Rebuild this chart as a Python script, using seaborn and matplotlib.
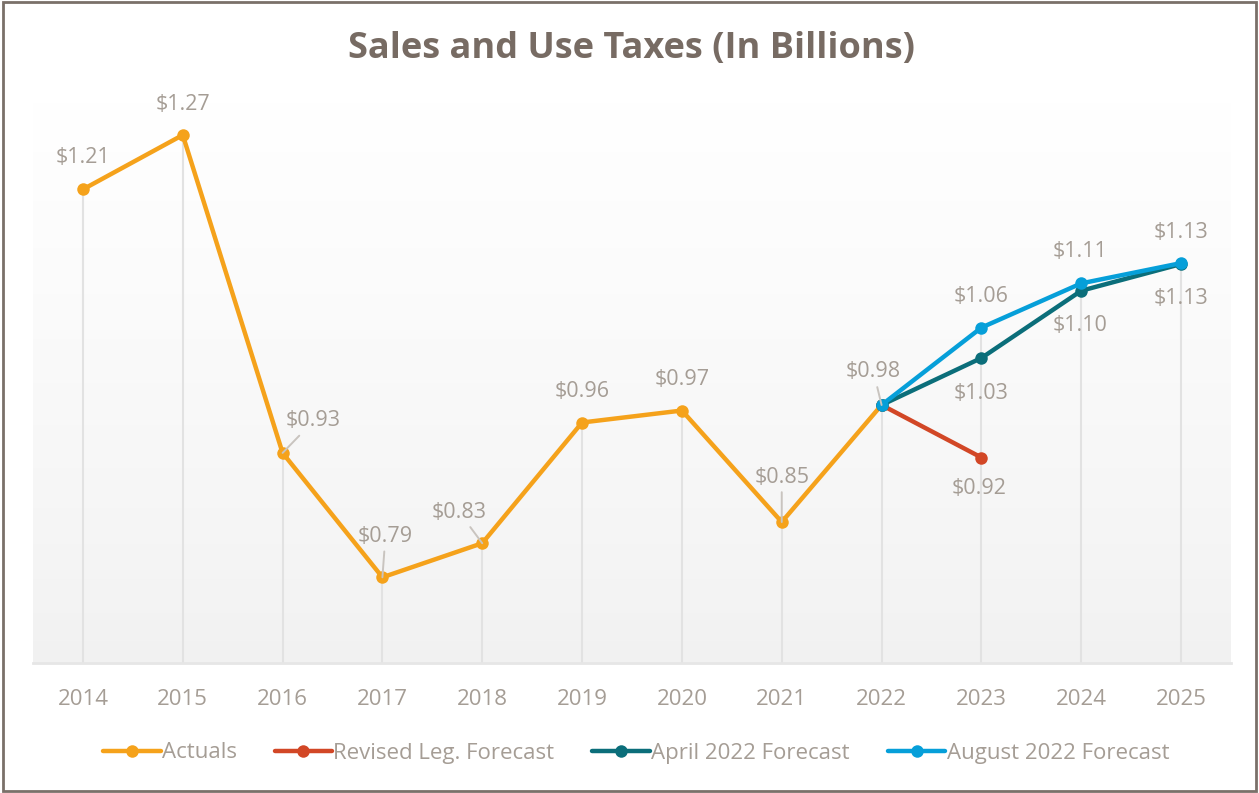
import numpy as np
import pandas as pd
import seaborn as sns
import matplotlib.pyplot as plt
from matplotlib.lines import Line2D
from matplotlib.patches import Rectangle

# data
years = [2014, 2015, 2016, 2017, 2018, 2019, 2020, 2021, 2022, 2023, 2024, 2025]
actuals = [1.214, 1.273, 0.928, 0.793, 0.830, 0.961, 0.974, 0.853, 0.980]
revised_years = [2022, 2023]
revised = [0.980, 0.923]
forecast_years = [2022, 2023, 2024, 2025]
april = [0.980, 1.031, 1.104, 1.133]
august = [0.980, 1.064, 1.112, 1.134]

series_names = ["Actuals", "Revised Leg. Forecast", "April 2022 Forecast", "August 2022 Forecast"]
colors = ["#F5A21B", "#D24726", "#0B6E7A", "#069FD9"]

frames = [
    pd.DataFrame({"year": years[:len(actuals)], "value": actuals, "series": series_names[0]}),
    pd.DataFrame({"year": revised_years, "value": revised, "series": series_names[1]}),
    pd.DataFrame({"year": forecast_years, "value": april, "series": series_names[2]}),
    pd.DataFrame({"year": forecast_years, "value": august, "series": series_names[3]}),
]
df = pd.concat(frames, ignore_index=True)

sns.set_theme(style="white")
plt.rcParams['font.family'] = ['Open Sans', 'DejaVu Sans']
label_color = "#a59d95"

fig = plt.figure(figsize=(12.59, 7.93), dpi=100)
ax = fig.add_axes([33 / 1259, 1 - 663 / 793, 1198 / 1259, 563 / 793])

ymin, ymax = 0.7, 1.311
ax.set_xlim(2013.5, 2025.5)
ax.set_ylim(ymin, ymax)

# plot area gradient, white at the top to light grey at the bottom
grad = np.linspace(0, 1, 256).reshape(-1, 1) ** 0.8
ax.imshow(grad, extent=(2013.5, 2025.5, ymin, ymax), aspect="auto", origin="lower",
          cmap=sns.blend_palette(["#f1f1f1", "#ffffff"], as_cmap=True),
          vmin=0, vmax=1, zorder=0)

# drop lines
tops = df.groupby("year")["value"].max()
ax.vlines(tops.index, ymin, tops.values, color="#e2e2e2", lw=1.5, zorder=1)

sns.lineplot(data=df, x="year", y="value", hue="series", hue_order=series_names,
             palette=colors, marker="o", markersize=9, markeredgewidth=0,
             linewidth=3.2, legend=False, ax=ax, zorder=3)

# data labels: x, value, offset x, offset y (pixels), leader line
label_specs = [
    (2014, actuals[0], 0, 32, False),
    (2015, actuals[1], 0, 31, False),
    (2016, actuals[2], 31, 32, True),
    (2017, actuals[3], 3, 41, True),
    (2018, actuals[4], -23, 31, True),
    (2019, actuals[5], 0, 31, False),
    (2020, actuals[6], 0, 31, False),
    (2021, actuals[7], 0, 45, True),
    (2022, actuals[8], -8, 33, True),
    (2023, august[1], 0, 31, False),
    (2023, april[1], 0, -35, False),
    (2023, revised[1], -2, -31, False),
    (2024, august[2], -1, 32, False),
    (2024, april[2], -1, -35, False),
    (2025, august[3], 0, 31, False),
    (2025, april[3], 0, -34, False),
]
for x, y, dx, dy, leader in label_specs:
    kw = {}
    if leader:
        kw["arrowprops"] = dict(arrowstyle="-", color="#c9c4bf", lw=1.4, shrinkA=1, shrinkB=0)
    ax.annotate(f"${y:.2f}", (x, y), xytext=(dx, dy), textcoords="offset pixels",
                ha="center", va="center", fontsize=15.5, color=label_color,
                zorder=5, **kw)

ax.set_xticks(years)
ax.set_xticklabels([str(y) for y in years])
ax.set_yticks([])
ax.tick_params(axis="x", length=0, pad=19, labelsize=16, labelcolor=label_color)
ax.set_xlabel("")
ax.set_ylabel("")
for side in ["top", "left", "right"]:
    ax.spines[side].set_visible(False)
ax.spines["bottom"].set_color("#e6e6e6")
ax.spines["bottom"].set_linewidth(2)

fig.text(631 / 1259, 1 - 49 / 793, "Sales and Use Taxes (In Billions)",
         ha="center", va="center", fontsize=26, fontweight="bold", color="#776b63")

handles = [Line2D([0], [0], color=c, lw=3.2, marker="o", markersize=9, markeredgewidth=0)
           for c in colors]
fig.legend(handles, series_names, loc="center", bbox_to_anchor=(636 / 1259, 1 - 753 / 793),
           ncol=4, frameon=False, fontsize=16, labelcolor=label_color,
           handlelength=2.6, handletextpad=0.05, columnspacing=1.7)

fig.patches.append(Rectangle((0.002, 0.002), 0.996, 0.996, transform=fig.transFigure,
                             fill=False, edgecolor="#7a7069", lw=2))

fig.savefig("out.png", dpi=100)
